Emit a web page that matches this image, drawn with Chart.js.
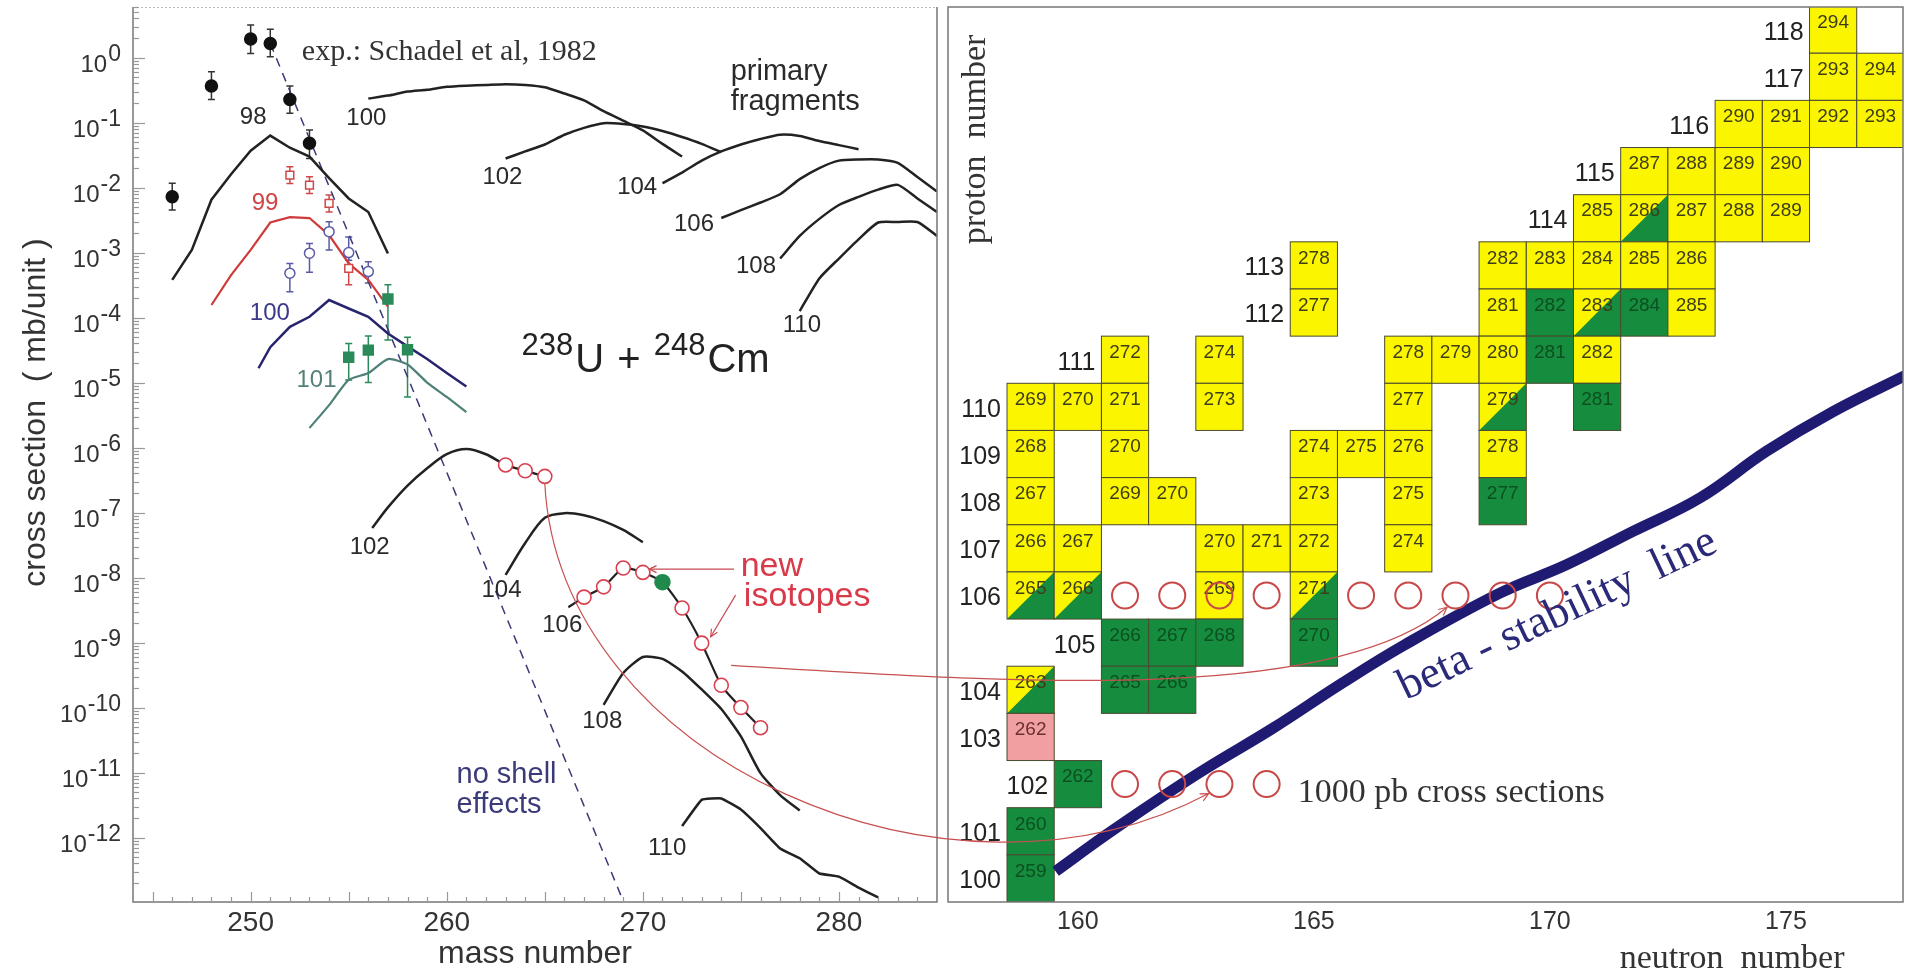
<!DOCTYPE html>
<html>
<head>
<meta charset="utf-8">
<title>238U + 248Cm</title>
<script src="https://cdn.jsdelivr.net/npm/chart.js@4.4.1/dist/chart.umd.min.js"></script>
<style>
  html, body { margin: 0; background: #fff; }
  #wrap { position: relative; width: 1905px; height: 973px; overflow: hidden; }
  canvas { position: absolute; top: 0; }
</style>
</head>
<body>
<div id="wrap">
  <canvas id="massChart" width="945" height="973" style="left:0"></canvas>
  <canvas id="nucChart" width="960" height="973" style="left:945px"></canvas>
  <canvas id="links" width="1905" height="973" style="left:0;pointer-events:none"></canvas>
</div>
<script>
const SANS = "'Liberation Sans', Arial, sans-serif";
const SERIF = "'Liberation Serif', 'Times New Roman', serif";
Chart.defaults.font.family = SANS;
Chart.defaults.color = '#333';

// ---------- left panel: cross sections vs mass number ----------
const massTicks = [250, 260, 270, 280];

// measured points, Schadel et al 1982
const cfMass = [246, 248, 250, 251, 252, 253];
const cfSigma = [7.2e-3, 0.365, 1.93, 1.65, 0.227, 0.048];
const cfLow = [4.5e-3, 0.227, 1.16, 1.03, 0.139, 0.028];
const cfHigh = [1.17e-2, 0.605, 3.16, 2.72, 0.365, 0.077];

const esMass = [252, 253, 254, 255];
const esSigma = [1.56e-2, 1.09e-2, 5.7e-3, 5.7e-4];
const esLow = [1.16e-2, 8.1e-3, 4.2e-3, 3.2e-4];
const esHigh = [2.1e-2, 1.47e-2, 7.7e-3, 9.5e-4];

const fmMass = [252, 253, 254, 255, 256];
const fmSigma = [4.8e-4, 9.8e-4, 2.1e-3, 1.0e-3, 5.1e-4];
const fmLow = [2.5e-4, 5.0e-4, 1.1e-3, 7.6e-4, 3.4e-4];
const fmHigh = [6.8e-4, 1.38e-3, 2.97e-3, 1.74e-3, 7.2e-4];

const mdMass = [255, 256, 257, 258];
const mdSigma = [2.45e-5, 3.16e-5, 1.93e-4, 3.2e-5];
const mdLow = [1.1e-5, 1.0e-5, 4.5e-5, 6.0e-6];
const mdHigh = [4.0e-5, 5.2e-5, 3.2e-4, 5.0e-5];

// calculated yields of the surviving isotopes, Z = 98..101
const th98Mass = [246, 247, 248, 249, 250, 251, 252, 253, 254, 255, 256, 257];
const th98Sigma = [3.8e-4, 1.1e-3, 6.5e-3, 1.6e-2, 3.7e-2, 6.3e-2, 4.1e-2, 3.0e-2, 1.4e-2, 6.8e-3, 4.2e-3, 9.7e-4];
const th99Mass = [248, 249, 250, 251, 252, 253, 254, 255, 256, 257];
const th99Sigma = [1.56e-4, 4.5e-4, 1.1e-3, 2.9e-3, 3.5e-3, 3.4e-3, 1.86e-3, 6.8e-4, 3.8e-4, 1.47e-4];
const th100Mass = [250.4, 251, 252, 253, 254, 255, 256, 257, 258, 259, 260, 261];
const th100Sigma = [1.66e-5, 3.5e-5, 7.2e-5, 1.03e-4, 1.86e-4, 1.38e-4, 1.03e-4, 5.7e-5, 3.6e-5, 2.3e-5, 1.4e-5, 8.7e-6];
const th101Mass = [253, 254, 255, 256, 257, 258, 259, 260, 261];
const th101Sigma = [2.0e-6, 4.5e-6, 1.1e-5, 1.4e-5, 2.3e-5, 1.9e-5, 1.0e-5, 6.0e-6, 3.5e-6];

// primary fragments
const p100Mass = [256, 257, 258, 259, 260, 261, 262, 263, 264, 265, 266, 267, 268, 269, 270, 271, 272];
const p100Sigma = [0.234, 0.26, 0.30, 0.32, 0.355, 0.37, 0.38, 0.39, 0.38, 0.35, 0.28, 0.22, 0.15, 0.107, 0.076, 0.047, 0.030];
const p102Mass = [263, 264, 265, 266, 267, 268, 269, 270, 271, 272, 273, 274];
const p102Sigma = [0.028, 0.036, 0.046, 0.065, 0.083, 0.098, 0.095, 0.087, 0.074, 0.060, 0.047, 0.035];
const p104Mass = [271, 272, 273, 274, 275, 276, 277, 278, 279, 280, 281];
const p104Sigma = [0.0117, 0.017, 0.026, 0.036, 0.046, 0.056, 0.065, 0.062, 0.052, 0.045, 0.039];
const p106Mass = [274, 275, 276, 277, 278, 279, 280, 281, 282, 283, 284, 285];
const p106Sigma = [3.4e-3, 4.5e-3, 5.9e-3, 7.9e-3, 0.0135, 0.020, 0.026, 0.027, 0.027, 0.024, 0.0145, 8.7e-3];
const p108Mass = [277, 278, 279, 280, 281, 282, 283, 284, 285];
const p108Sigma = [8.1e-4, 1.8e-3, 3.3e-3, 5.4e-3, 7.2e-3, 9.3e-3, 0.011, 6.8e-3, 4.2e-3];
const p110Mass = [278, 279, 280, 281, 282, 283, 284, 285];
const p110Sigma = [1.26e-4, 4.0e-4, 8.1e-4, 1.6e-3, 2.9e-3, 2.95e-3, 2.95e-3, 1.8e-3];

// surviving superheavy isotopes, Z = 102..110
const s102Mass = [256.2, 257, 258, 259, 260, 261, 262, 263, 264, 265];
const s102Sigma = [5.8e-8, 1.2e-7, 2.6e-7, 4.8e-7, 7.9e-7, 9.5e-7, 7.9e-7, 5.4e-7, 4.4e-7, 3.6e-7];
const s104Mass = [263, 264, 265, 266, 267, 268, 269, 270];
const s104Sigma = [1.1e-8, 3.4e-8, 8.3e-8, 9.8e-8, 9.1e-8, 7.4e-8, 5.4e-8, 3.5e-8];
const s106Mass = [266.2, 267, 268, 269, 270, 271, 272, 273, 274, 275, 276];
const s106Sigma = [3.5e-9, 5.0e-9, 7.2e-9, 1.4e-8, 1.2e-8, 8.5e-9, 3.4e-9, 9.8e-10, 2.2e-10, 1.0e-10, 4.9e-11];
const s108Mass = [268, 269, 270, 271, 272, 273, 274, 275, 276, 277, 278];
const s108Sigma = [1.1e-10, 3.4e-10, 6.0e-10, 5.6e-10, 3.6e-10, 1.9e-10, 9.5e-11, 3.6e-11, 9.8e-12, 4.5e-12, 2.6e-12];
const s110Mass = [272, 273, 274, 275, 276, 277, 278, 279, 280, 281, 282];
const s110Sigma = [1.5e-12, 3.8e-12, 4.0e-12, 2.7e-12, 1.4e-12, 6.8e-13, 4.8e-13, 2.8e-13, 2.5e-13, 1.7e-13, 1.2e-13];

// isotopes marked as new on the Z = 102 and Z = 106 chains
const newIso102 = [263, 264, 265];
const newIso106 = [267, 268, 269, 270, 272, 273, 274, 275, 276];
const known106 = [271];

// estimate without shell effects
const noShellMass = [251, 269];
const noShellSigma = [1.65, 1.05e-13];

// ---------- right panel: chart of nuclides ----------
const neutronTicks = [160, 165, 170, 175];
// proton number, mass numbers and kind (y: yellow, g: green, d: half/half, p: pink)
const cellZ = [118, 117, 117, 116, 116, 116, 116, 115, 115, 115, 115,
  114, 114, 114, 114, 114, 113, 113, 113, 113, 113, 113,
  112, 112, 112, 112, 112, 112, 111, 111, 111, 111, 111, 111, 111,
  110, 110, 110, 110, 110, 110, 110, 109, 109, 109, 109, 109, 109,
  108, 108, 108, 108, 108, 108, 107, 107, 107, 107, 107, 107,
  106, 106, 106, 106, 105, 105, 105, 105, 104, 104, 104, 103, 102, 101, 100];
const cellA = [294, 293, 294, 290, 291, 292, 293, 287, 288, 289, 290,
  285, 286, 287, 288, 289, 278, 282, 283, 284, 285, 286,
  277, 281, 282, 283, 284, 285, 272, 274, 278, 279, 280, 281, 282,
  269, 270, 271, 273, 277, 279, 281, 268, 270, 274, 275, 276, 278,
  267, 269, 270, 273, 275, 277, 266, 267, 270, 271, 272, 274,
  265, 266, 269, 271, 266, 267, 268, 270, 263, 265, 266, 262, 262, 260, 259];
const cellKind = ['y', 'y', 'y', 'y', 'y', 'y', 'y', 'y', 'y', 'y', 'y',
  'y', 'd', 'y', 'y', 'y', 'y', 'y', 'y', 'y', 'y', 'y',
  'y', 'y', 'g', 'd', 'g', 'y', 'y', 'y', 'y', 'y', 'y', 'g', 'y',
  'y', 'y', 'y', 'y', 'y', 'd', 'g', 'y', 'y', 'y', 'y', 'y', 'y',
  'y', 'y', 'y', 'y', 'y', 'g', 'y', 'y', 'y', 'y', 'y', 'y',
  'd', 'd', 'y', 'd', 'g', 'g', 'g', 'g', 'd', 'g', 'g', 'p', 'g', 'g', 'g'];

// 1000 pb cross-section markers (neutron number, proton number)
const pbN = [161, 162, 163, 164, 166, 167, 168, 169, 170, 161, 162, 163, 164];
const pbZ = [106, 106, 106, 106, 106, 106, 106, 106, 106, 102, 102, 102, 102];

// beta-stability line
const betaN = [159.53, 160.61, 161.74, 162.73, 164.14, 165.55, 166.9, 168.94, 170.35, 171.76, 173.18, 174.59, 176.0, 177.6];
const betaZ = [100.15, 100.93, 101.7, 102.34, 103.19, 104.11, 104.94, 106.05, 106.65, 107.36, 108.07, 109.06, 109.9, 110.7];

// ---------- helpers ----------
const pts = (xs, ys) => xs.map((x, i) => ({ x, y: ys[i] }));
const pick = (xs, ys, wanted) => wanted.map(m => ({ x: m, y: ys[xs.indexOf(m)] }));
const dex = e => Math.pow(10, e);

function curve(data, color, width, tension) {
  return { data, showLine: true, borderColor: color, borderWidth: width, pointRadius: 0, tension: tension || 0, fill: false };
}
function markers(data, style, radius, fillColor, edgeColor, width) {
  return { data, showLine: false, pointStyle: style, pointRadius: radius, pointBackgroundColor: fillColor,
    pointBorderColor: edgeColor, pointBorderWidth: width || 1.5 };
}

function textAt(chart, str, x, y, font, color, align, baseline) {
  const { ctx, scales } = chart;
  ctx.save();
  ctx.font = font;
  ctx.fillStyle = color;
  ctx.textAlign = align || 'left';
  ctx.textBaseline = baseline || 'middle';
  ctx.fillText(str, scales.x.getPixelForValue(x), scales.y.getPixelForValue(y));
  ctx.restore();
}

function arrowHead(ctx, from, to, len) {
  const a = Math.atan2(to.y - from.y, to.x - from.x);
  ctx.beginPath();
  ctx.moveTo(to.x - len * Math.cos(a - 0.45), to.y - len * Math.sin(a - 0.45));
  ctx.lineTo(to.x, to.y);
  ctx.lineTo(to.x - len * Math.cos(a + 0.45), to.y - len * Math.sin(a + 0.45));
  ctx.stroke();
}

// curve labels: text, mass, log10(sigma), colour
const curveLabels = [
  ['98', 250.13, -0.92, '#2a2a2a'], ['99', 250.73, -2.25, '#d04545'],
  ['100', 250.98, -3.93, '#3a3a88'], ['101', 253.36, -4.96, '#55807a'],
  ['100', 255.9, -0.93, '#2a2a2a'], ['102', 262.84, -1.84, '#2a2a2a'],
  ['104', 269.71, -1.99, '#2a2a2a'], ['106', 272.61, -2.56, '#2a2a2a'],
  ['108', 275.77, -3.22, '#2a2a2a'], ['110', 278.11, -4.12, '#2a2a2a'],
  ['102', 256.07, -7.53, '#2a2a2a'], ['104', 262.79, -8.19, '#2a2a2a'],
  ['106', 265.89, -8.73, '#2a2a2a'], ['108', 267.93, -10.22, '#2a2a2a'],
  ['110', 271.24, -12.16, '#2a2a2a']
];

const errorSets = [
  [cfMass, cfLow, cfHigh, '#333'], [esMass, esLow, esHigh, '#d04848'],
  [fmMass, fmLow, fmHigh, '#5a5aa8'], [mdMass, mdLow, mdHigh, '#2a8a5a']
];

const massDecor = {
  id: 'massDecor',
  beforeDatasetsDraw(chart) {
    const { ctx, scales: { x, y } } = chart;
    ctx.save();
    ctx.lineWidth = 1.5;
    errorSets.forEach(([ms, lo, hi, col]) => {
      ctx.strokeStyle = col;
      ms.forEach((m, i) => {
        const px = x.getPixelForValue(m), y0 = y.getPixelForValue(lo[i]), y1 = y.getPixelForValue(hi[i]);
        ctx.beginPath();
        ctx.moveTo(px, y0); ctx.lineTo(px, y1);
        ctx.moveTo(px - 3.5, y0); ctx.lineTo(px + 3.5, y0);
        ctx.moveTo(px - 3.5, y1); ctx.lineTo(px + 3.5, y1);
        ctx.stroke();
      });
    });
    ctx.restore();
  },
  afterDraw(chart) {
    const { ctx, chartArea: a, scales: { x, y } } = chart;
    ctx.save();
    // frame
    ctx.strokeStyle = '#bbb'; ctx.lineWidth = 1; ctx.setLineDash([2, 2]);
    ctx.beginPath(); ctx.moveTo(a.left, a.top + 0.5); ctx.lineTo(a.right, a.top + 0.5); ctx.stroke();
    ctx.setLineDash([]);
    ctx.strokeStyle = '#777'; ctx.lineWidth = 1.5;
    ctx.beginPath();
    ctx.moveTo(a.left, a.top); ctx.lineTo(a.left, a.bottom); ctx.lineTo(a.right, a.bottom); ctx.lineTo(a.right, a.top);
    ctx.stroke();
    // ticks on the log axis
    ctx.strokeStyle = '#999'; ctx.lineWidth = 1.2;
    for (let k = -13; k <= 0; k++) {
      for (let m = 1; m <= 9; m++) {
        const v = m * dex(k);
        if (v < y.min || v > y.max) continue;
        const py = Math.round(y.getPixelForValue(v)) + 0.5;
        ctx.beginPath(); ctx.moveTo(a.left, py); ctx.lineTo(a.left + (m === 1 ? 12 : 6), py); ctx.stroke();
      }
    }
    for (let v = 245; v < 285; v++) {
      const px = Math.round(x.getPixelForValue(v)) + 0.5;
      ctx.beginPath(); ctx.moveTo(px, a.bottom); ctx.lineTo(px, a.bottom - (v % 5 === 0 ? 10 : 5)); ctx.stroke();
    }
    // decade labels 10^k
    ctx.fillStyle = '#333'; ctx.textBaseline = 'middle'; ctx.textAlign = 'left';
    for (let k = 0; k >= -12; k--) {
      const py = y.getPixelForValue(dex(k));
      ctx.font = '24px ' + SANS;
      const wb = ctx.measureText('10').width;
      ctx.font = '23px ' + SANS;
      const sup = k === 0 ? '0' : '-' + (-k);
      const ws = ctx.measureText(sup).width;
      const x0 = a.left - 12 - wb - ws - 1;
      ctx.font = '24px ' + SANS;
      ctx.fillText('10', x0, py + 8);
      ctx.font = '23px ' + SANS;
      ctx.fillText(sup, x0 + wb + 1, py - 3);
    }
    // axis title
    ctx.save();
    ctx.translate(36, (a.top + a.bottom) / 2 - 42);
    ctx.rotate(-Math.PI / 2);
    ctx.font = '32px ' + SANS; ctx.textAlign = 'center';
    ctx.fillText('cross section  ( mb/unit )', 0, 0);
    ctx.restore();
    ctx.restore();

    curveLabels.forEach(([t, m, e, c]) => textAt(chart, t, m, dex(e), '24px ' + SANS, c, 'center'));
    textAt(chart, 'exp.: Schadel et al, 1982', 252.61, dex(0.085), '30px ' + SERIF, '#333');
    textAt(chart, 'primary', 274.48, dex(-0.22), '29px ' + SANS, '#2a2a2a');
    textAt(chart, 'fragments', 274.48, dex(-0.69), '29px ' + SANS, '#2a2a2a');
    textAt(chart, 'no shell', 260.5, dex(-11.04), '29px ' + SANS, '#3b3b7a');
    textAt(chart, 'effects', 260.5, dex(-11.5), '29px ' + SANS, '#3b3b7a');
    textAt(chart, 'new', 274.99, dex(-7.83), '34px ' + SANS, '#d83a4a');
    textAt(chart, 'isotopes', 275.15, dex(-8.3), '34px ' + SANS, '#d83a4a');

    // reaction label with superscripts
    const parts = [['238', 31, -17], ['U', 40, 0], [' + ', 40, 0], ['248', 31, -17], ['Cm', 40, 0]];
    let px = x.getPixelForValue(263.81);
    const base = y.getPixelForValue(dex(-4.84));
    ctx.save();
    ctx.fillStyle = '#222'; ctx.textBaseline = 'alphabetic'; ctx.textAlign = 'left';
    parts.forEach(([t, size, dy]) => {
      ctx.font = size + 'px ' + SANS;
      ctx.fillText(t, px, base + dy);
      px += ctx.measureText(t).width + 2;
    });
    ctx.restore();

    // pointers to the new isotopes
    ctx.save();
    ctx.strokeStyle = '#c84a52'; ctx.lineWidth = 1.2;
    const pNew = [{ x: x.getPixelForValue(274.65), y: y.getPixelForValue(dex(-7.87)) },
                  { x: x.getPixelForValue(270.33), y: y.getPixelForValue(dex(-7.87)) }];
    const pIso = [{ x: x.getPixelForValue(274.73), y: y.getPixelForValue(dex(-8.27)) },
                  { x: x.getPixelForValue(273.46), y: y.getPixelForValue(dex(-8.91)) }];
    [pNew, pIso].forEach(([p, q]) => {
      ctx.beginPath(); ctx.moveTo(p.x, p.y); ctx.lineTo(q.x, q.y); ctx.stroke();
      arrowHead(ctx, p, q, 8);
    });
    ctx.restore();
  }
};

const massChart = new Chart(document.getElementById('massChart'), {
  type: 'scatter',
  data: {
    datasets: [
      markers(pts(cfMass, cfSigma), 'circle', 6, '#111', '#111'),
      markers(pts(esMass, esSigma), 'rect', 5.5, '#fff', '#d04848'),
      markers(pts(fmMass, fmSigma), 'circle', 5, '#fff', '#5a5aa8'),
      markers(pts(mdMass, mdSigma), 'rect', 7, '#2a8a5a', '#2a8a5a'),
      markers(pick(s102Mass, s102Sigma, newIso102), 'circle', 7, '#fff', '#d84050', 1.6),
      markers(pick(s106Mass, s106Sigma, newIso106), 'circle', 7, '#fff', '#d84050', 1.6),
      markers(pick(s106Mass, s106Sigma, known106), 'circle', 7.5, '#1f8a4c', '#1f8a4c'),
      curve(pts(th98Mass, th98Sigma), '#222', 2.5),
      curve(pts(th99Mass, th99Sigma), '#d03a3a', 2.2),
      curve(pts(th100Mass, th100Sigma), '#27246e', 2.5),
      curve(pts(th101Mass, th101Sigma), '#4e8078', 2.2, 0.2),
      curve(pts(p100Mass, p100Sigma), '#222', 2.5, 0.2),
      curve(pts(p102Mass, p102Sigma), '#222', 2.5, 0.2),
      curve(pts(p104Mass, p104Sigma), '#222', 2.5, 0.2),
      curve(pts(p106Mass, p106Sigma), '#222', 2.5, 0.2),
      curve(pts(p108Mass, p108Sigma), '#222', 2.5, 0.2),
      curve(pts(p110Mass, p110Sigma), '#222', 2.5, 0.2),
      curve(pts(s102Mass, s102Sigma), '#222', 2.5, 0.3),
      curve(pts(s104Mass, s104Sigma), '#222', 2.5, 0.3),
      curve(pts(s106Mass, s106Sigma), '#222', 2.2, 0.2),
      curve(pts(s108Mass, s108Sigma), '#222', 2.5, 0.2),
      curve(pts(s110Mass, s110Sigma), '#222', 2.5, 0.1),
      Object.assign(curve(pts(noShellMass, noShellSigma), '#3a3a7a', 1.5), { borderDash: [9, 7] })
    ]
  },
  options: {
    responsive: false,
    animation: false,
    devicePixelRatio: 1,
    layout: { autoPadding: false, padding: { top: 7, right: 8, left: 0, bottom: 0 } },
    plugins: { legend: { display: false }, tooltip: { enabled: false } },
    scales: {
      x: {
        type: 'linear', min: 244, max: 285,
        afterBuildTicks: s => { s.ticks = massTicks.map(value => ({ value })); },
        afterFit: s => { s.height = 71; },
        ticks: { font: { size: 28 }, color: '#333', padding: 4, maxRotation: 0, autoSkip: false },
        grid: { drawOnChartArea: false, drawTicks: false },
        border: { display: false },
        title: { display: true, text: 'mass number', font: { size: 32 }, color: '#333', padding: { top: 0, bottom: 0 } }
      },
      y: {
        type: 'logarithmic', min: 1.02e-13, max: 6,
        afterFit: s => { s.width = 133; },
        ticks: { display: false },
        grid: { display: false },
        border: { display: false }
      }
    }
  },
  plugins: [massDecor]
});

// ---------- right panel ----------
const CELL_FILL = { y: '#fbf500', g: '#168c3e', d: '#fbf500', p: '#f0a0a0' };
const CELL_TEXT = { y: '#3d3d18', g: '#0c4f20', d: '#3d3d18', p: '#6a3030' };

const nucDecor = {
  id: 'nucDecor',
  beforeDatasetsDraw(chart) {
    const { ctx, chartArea: a, scales: { x, y } } = chart;
    ctx.save();
    ctx.beginPath(); ctx.rect(a.left, a.top, a.right - a.left, a.bottom - a.top); ctx.clip();
    cellZ.forEach((z, i) => {
      const n = cellA[i] - z, kind = cellKind[i];
      const x0 = x.getPixelForValue(n - 0.5), x1 = x.getPixelForValue(n + 0.5);
      const y0 = y.getPixelForValue(z + 0.5), y1 = y.getPixelForValue(z - 0.5);
      ctx.fillStyle = CELL_FILL[kind];
      ctx.fillRect(x0, y0, x1 - x0, y1 - y0);
      if (kind === 'd') {
        ctx.fillStyle = CELL_FILL.g;
        ctx.beginPath(); ctx.moveTo(x0, y1); ctx.lineTo(x1, y0); ctx.lineTo(x1, y1); ctx.closePath(); ctx.fill();
      }
      ctx.strokeStyle = '#4a4a30'; ctx.lineWidth = 1;
      ctx.strokeRect(x0, y0, x1 - x0, y1 - y0);
      ctx.fillStyle = CELL_TEXT[kind];
      ctx.font = '19px ' + SANS; ctx.textAlign = 'center'; ctx.textBaseline = 'middle';
      ctx.fillText(String(cellA[i]), (x0 + x1) / 2, (y0 + y1) / 2 - 7);
    });
    ctx.restore();
  },
  afterDraw(chart) {
    const { ctx, chartArea: a, scales: { x, y } } = chart;
    ctx.save();
    ctx.strokeStyle = '#777'; ctx.lineWidth = 1.5;
    ctx.strokeRect(a.left, a.top, a.right - a.left, a.bottom - a.top);
    // proton numbers, left of the first cell of each row
    const firstN = {};
    cellZ.forEach((z, i) => { const n = cellA[i] - z; if (!(z in firstN) || n < firstN[z]) firstN[z] = n; });
    ctx.fillStyle = '#222'; ctx.font = '25px ' + SANS; ctx.textAlign = 'right'; ctx.textBaseline = 'middle';
    Object.keys(firstN).forEach(z => {
      ctx.fillText(z, x.getPixelForValue(firstN[z] - 0.5) - 6, y.getPixelForValue(+z) + 3);
    });
    // axis titles
    ctx.save();
    ctx.translate(x.getPixelForValue(157.84), y.getPixelForValue(115.67));
    ctx.rotate(-Math.PI / 2);
    ctx.font = '34px ' + SERIF; ctx.fillStyle = '#333'; ctx.textAlign = 'center';
    ctx.fillText('proton  number', 0, 0);
    ctx.restore();
    ctx.restore();
    textAt(chart, 'neutron  number', 171.48, 98.09, '34px ' + SERIF, '#333', 'left', 'alphabetic');
    textAt(chart, '1000 pb cross sections', 164.66, 101.63, '34px ' + SERIF, '#333', 'left', 'alphabetic');
    ctx.save();
    ctx.translate(x.getPixelForValue(166.95), y.getPixelForValue(103.78));
    ctx.rotate(-25.5 * Math.PI / 180);
    ctx.font = '45px ' + SERIF; ctx.fillStyle = '#2a2a78'; ctx.textBaseline = 'alphabetic';
    ctx.fillText('beta - stability  line', 0, 0);
    ctx.restore();
  }
};

const nucChart = new Chart(document.getElementById('nucChart'), {
  type: 'scatter',
  data: {
    datasets: [
      markers(pts(pbN, pbZ), 'circle', 13, 'rgba(0,0,0,0)', '#c84848', 2),
      curve(pts(betaN, betaZ), '#1f1a72', 11, 0.4)
    ]
  },
  options: {
    responsive: false,
    animation: false,
    devicePixelRatio: 1,
    layout: { autoPadding: false, padding: { top: 7, right: 2, left: 3, bottom: 0 } },
    plugins: { legend: { display: false }, tooltip: { enabled: false } },
    scales: {
      x: {
        type: 'linear', min: 157.25, max: 177.48,
        afterBuildTicks: s => { s.ticks = neutronTicks.map(value => ({ value })); },
        afterFit: s => { s.height = 71; },
        ticks: { font: { size: 25 }, color: '#333', padding: 5, maxRotation: 0, autoSkip: false },
        grid: { drawOnChartArea: false, drawTicks: false },
        border: { display: false }
      },
      y: { type: 'linear', min: 99.5, max: 118.48, display: false }
    }
  },
  plugins: [nucDecor]
});

// ---------- connectors between the two panels ----------
(function drawLinks() {
  const ctx = document.getElementById('links').getContext('2d');
  const off = document.getElementById('nucChart').offsetLeft;
  const L = (m, e) => ({ x: massChart.scales.x.getPixelForValue(m), y: massChart.scales.y.getPixelForValue(dex(e)) });
  const R = (n, z) => ({ x: off + nucChart.scales.x.getPixelForValue(n), y: nucChart.scales.y.getPixelForValue(z) });
  const start102 = L(265, Math.log10(s102Sigma[s102Mass.indexOf(265)]));
  start102.y += 7;
  const links = [
    [start102, L(265.74, -10.81), R(157.29, 98.88), R(162.77, 101.8)],
    [L(274.5, -9.35), R(158.35, 104.18), R(165.34, 103.65), R(167.82, 105.75)]
  ];
  ctx.strokeStyle = '#c85050'; ctx.lineWidth = 1.2;
  links.forEach(([p0, p1, p2, p3]) => {
    ctx.beginPath();
    ctx.moveTo(p0.x, p0.y);
    ctx.bezierCurveTo(p1.x, p1.y, p2.x, p2.y, p3.x, p3.y);
    ctx.stroke();
    arrowHead(ctx, p2, p3, 9);
  });
})();
</script>
</body>
</html>
